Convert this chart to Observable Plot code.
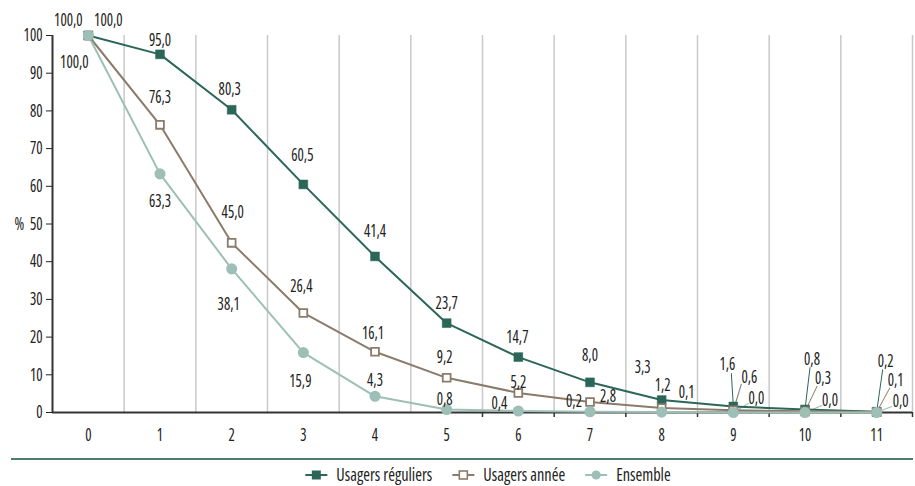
<!DOCTYPE html>
<html>
<head>
<meta charset="utf-8">
<script src="https://cdn.jsdelivr.net/npm/d3@7"></script>
<script src="https://cdn.jsdelivr.net/npm/@observablehq/plot@0.6"></script>
<style>
  html, body { margin: 0; padding: 0; background: #fff; }
  body { width: 915px; height: 486px; overflow: hidden; }
  svg text { font-family: "Open Sans", "DejaVu Sans", sans-serif; font-stretch: 75%; }
  #chart svg, #legend svg { display: block; }
</style>
</head>
<body>
<div id="chart"></div>
<div id="legend"></div>
<script>
// ---- data ----
const categories = [0, 1, 2, 3, 4, 5, 6, 7, 8, 9, 10, 11];
const seriesNames = ["Usagers réguliers", "Usagers année", "Ensemble"];
const reguliers = [100.0, 95.0, 80.3, 60.5, 41.4, 23.7, 14.7, 8.0, 3.3, 1.6, 0.8, 0.2];
const annee     = [100.0, 76.3, 45.0, 26.4, 16.1, 9.2, 5.2, 2.8, 1.2, 0.6, 0.3, 0.1];
const ensemble  = [100.0, 63.3, 38.1, 15.9, 4.3, 0.8, 0.4, 0.2, 0.1, 0.0, 0.0, 0.0];
const yTicks = [0, 10, 20, 30, 40, 50, 60, 70, 80, 90, 100];
const yUnit = "%";

// ---- styles ----
const FONT = '"Open Sans", "DejaVu Sans", sans-serif';
const FONT_SIZE = 18;
const colors = ["#2b6658", "#8b7b6b", "#9dbfb6"];
// label offsets in pixels [dx, dy] relative to the point
const labelOffsets = [
  [[-20,-15],[0,-14],[-2,-21],[-1,-29],[0,-25],[0,-20],[-1,-20],[0,-27],[-19,-33],[-6,-42],[7,-50],[9,-51]],
  [[20,-15],[0,-28],[1,-31],[-2,-27],[-2,-19],[-2,-21],[0,-11],[18,-6],[1,-23],[16,-33],[18,-33],[19,-32]],
  [[-14,27],[0,27],[-3,35],[-3,29],[0,-16],[-2,-10],[-19,-8],[-16,-11],[25,-20],[23,-14],[25,-12],[24,-11]]
];
// leader line end offsets (pixels) or null
const leaderEnds = [
  [null,null,null,null,null,null,null,null,null,[-2,-33],[5,-42],[6,-42]],
  [null,null,null,null,null,null,null,null,null,[8,-26],[12,-25],[13,-24]],
  [null,null,null,null,null,null,null,null,null,[15,-9],[17,-7],[15,-6]]
];
const fmt = v => v.toFixed(1).replace(".", ",");

const values = [reguliers, annee, ensemble];
const rows = [];
values.forEach((arr, s) => arr.forEach((v, i) => rows.push({
  cat: categories[i], value: v, s, series: seriesNames[s], label: fmt(v),
  off: labelOffsets[s][i], lead: leaderEnds[s][i]
})));

const boundaries = categories.map(c => c + 0.5);
const lowerTicks = boundaries.filter(b => b >= 5.5);

const marks = [
  Plot.ruleX(boundaries, {y1: 0, y2: 100, stroke: "#c9c9c9", strokeWidth: 1.5}),
  Plot.ruleX(lowerTicks, {y1: 0, y2: 0, insetBottom: -5, stroke: "#333", strokeWidth: 1.5}),
  Plot.ruleY([0], {stroke: "#333", strokeWidth: 2}),
  Plot.ruleX([-0.5], {y1: 0, y2: 100, stroke: "#333", strokeWidth: 2}),
  Plot.text([yUnit], {frameAnchor: "left", dx: -38, text: d => d, fill: "#222", fontSize: FONT_SIZE})
];
// leader lines
const lineShape = {draw(context, l) { context.moveTo(0, 0); context.lineTo(0, -l); }};
rows.filter(r => r.lead).forEach(r => {
  const [ex, ey] = r.lead;
  marks.push(Plot.vector([r], {x: "cat", y: "value", anchor: "start",
    length: Math.hypot(ex, ey), rotate: Math.atan2(ex, -ey) * 180 / Math.PI,
    shape: lineShape, stroke: colors[r.s], strokeWidth: 1}));
});
// lines and markers
values.forEach((arr, s) => {
  const data = rows.filter(r => r.s === s);
  marks.push(Plot.line(data, {x: "cat", y: "value", stroke: colors[s], strokeWidth: 2}));
});
values.forEach((arr, s) => {
  const data = rows.filter(r => r.s === s);
  if (s === 0) marks.push(Plot.dot(data, {x: "cat", y: "value", symbol: "square", r: 5, fill: colors[0], stroke: colors[0], strokeWidth: 0.5}));
  if (s === 1) marks.push(Plot.dot(data, {x: "cat", y: "value", symbol: "square", r: 4.4, fill: "#fff", stroke: colors[1], strokeWidth: 1.8}));
  if (s === 2) marks.push(Plot.dot(data, {x: "cat", y: "value", symbol: "circle", r: 4.8, fill: colors[2], stroke: colors[2]}));
});
// value labels
rows.forEach(r => {
  marks.push(Plot.text([r], {x: "cat", y: "value", text: "label", dx: r.off[0], dy: r.off[1], fill: "#222", fontSize: FONT_SIZE}));
});

const chart = Plot.plot({
  width: 915, height: 452,
  marginTop: 35, marginBottom: 40, marginLeft: 52, marginRight: 3,
  style: {fontFamily: FONT, fontSize: FONT_SIZE + "px", color: "#222", background: "#fff"},
  x: {domain: [-0.5, 11.5], ticks: categories, tickSize: 0, tickPadding: 16, tickFormat: d => String(d), label: null},
  y: {domain: [0, 100], ticks: yTicks, tickSize: 6, tickPadding: 4, label: null},
  marks
});
document.getElementById("chart").appendChild(chart);

// measure the installed font and compress to the reference's narrow width
function measure(parent, str) {
  const probe = d3.select(parent).append("text").style("font-size", FONT_SIZE + "px").text(str);
  const w = probe.node().getComputedTextLength();
  probe.remove();
  return w;
}
function squeeze(root, factor) {
  if (factor >= 0.99) return;
  root.querySelectorAll("text").forEach(t => {
    const w = t.getComputedTextLength();
    if (w > 0) {
      t.setAttribute("textLength", (w * factor).toFixed(2));
      t.setAttribute("lengthAdjust", "spacingAndGlyphs");
    }
  });
}
squeeze(chart, Math.min(1, 28.5 / measure(chart, "100,0")));

// legend (separator line + items)
const lsvg = d3.select("#legend").append("svg")
  .attr("width", 915).attr("height", 34)
  .style("font-size", FONT_SIZE + "px");
lsvg.append("line").attr("x1", 11).attr("x2", 913).attr("y1", 7).attr("y2", 7)
  .attr("stroke", "#4d7d6f").attr("stroke-width", 2);
const items = seriesNames.map((name, s) => {
  const g = lsvg.append("g");
  g.append("line").attr("x1", 0).attr("x2", 22).attr("y1", 0).attr("y2", 0)
    .attr("stroke", colors[s]).attr("stroke-width", 2);
  if (s === 0) g.append("rect").attr("x", 6.5).attr("y", -4.5).attr("width", 9).attr("height", 9).attr("fill", colors[0]);
  if (s === 1) g.append("rect").attr("x", 7).attr("y", -4).attr("width", 8).attr("height", 8).attr("fill", "#fff").attr("stroke", colors[1]).attr("stroke-width", 1.6);
  if (s === 2) g.append("circle").attr("cx", 11).attr("cy", 0).attr("r", 4.6).attr("fill", colors[2]);
  const t = g.append("text").attr("x", 31).attr("y", 0).attr("dy", "0.35em").attr("fill", "#222").text(name);
  return {g, t};
});
squeeze(lsvg.node(), Math.min(1, 96 / measure(lsvg.node(), seriesNames[0])));
const gap = 20;
const widths = items.map(({t}) => 31 + t.node().getComputedTextLength());
const total = d3.sum(widths) + gap * (items.length - 1);
let x0 = 488 - total / 2;
items.forEach(({g}, i) => { g.attr("transform", `translate(${x0},23)`); x0 += widths[i] + gap; });
</script>
</body>
</html>
